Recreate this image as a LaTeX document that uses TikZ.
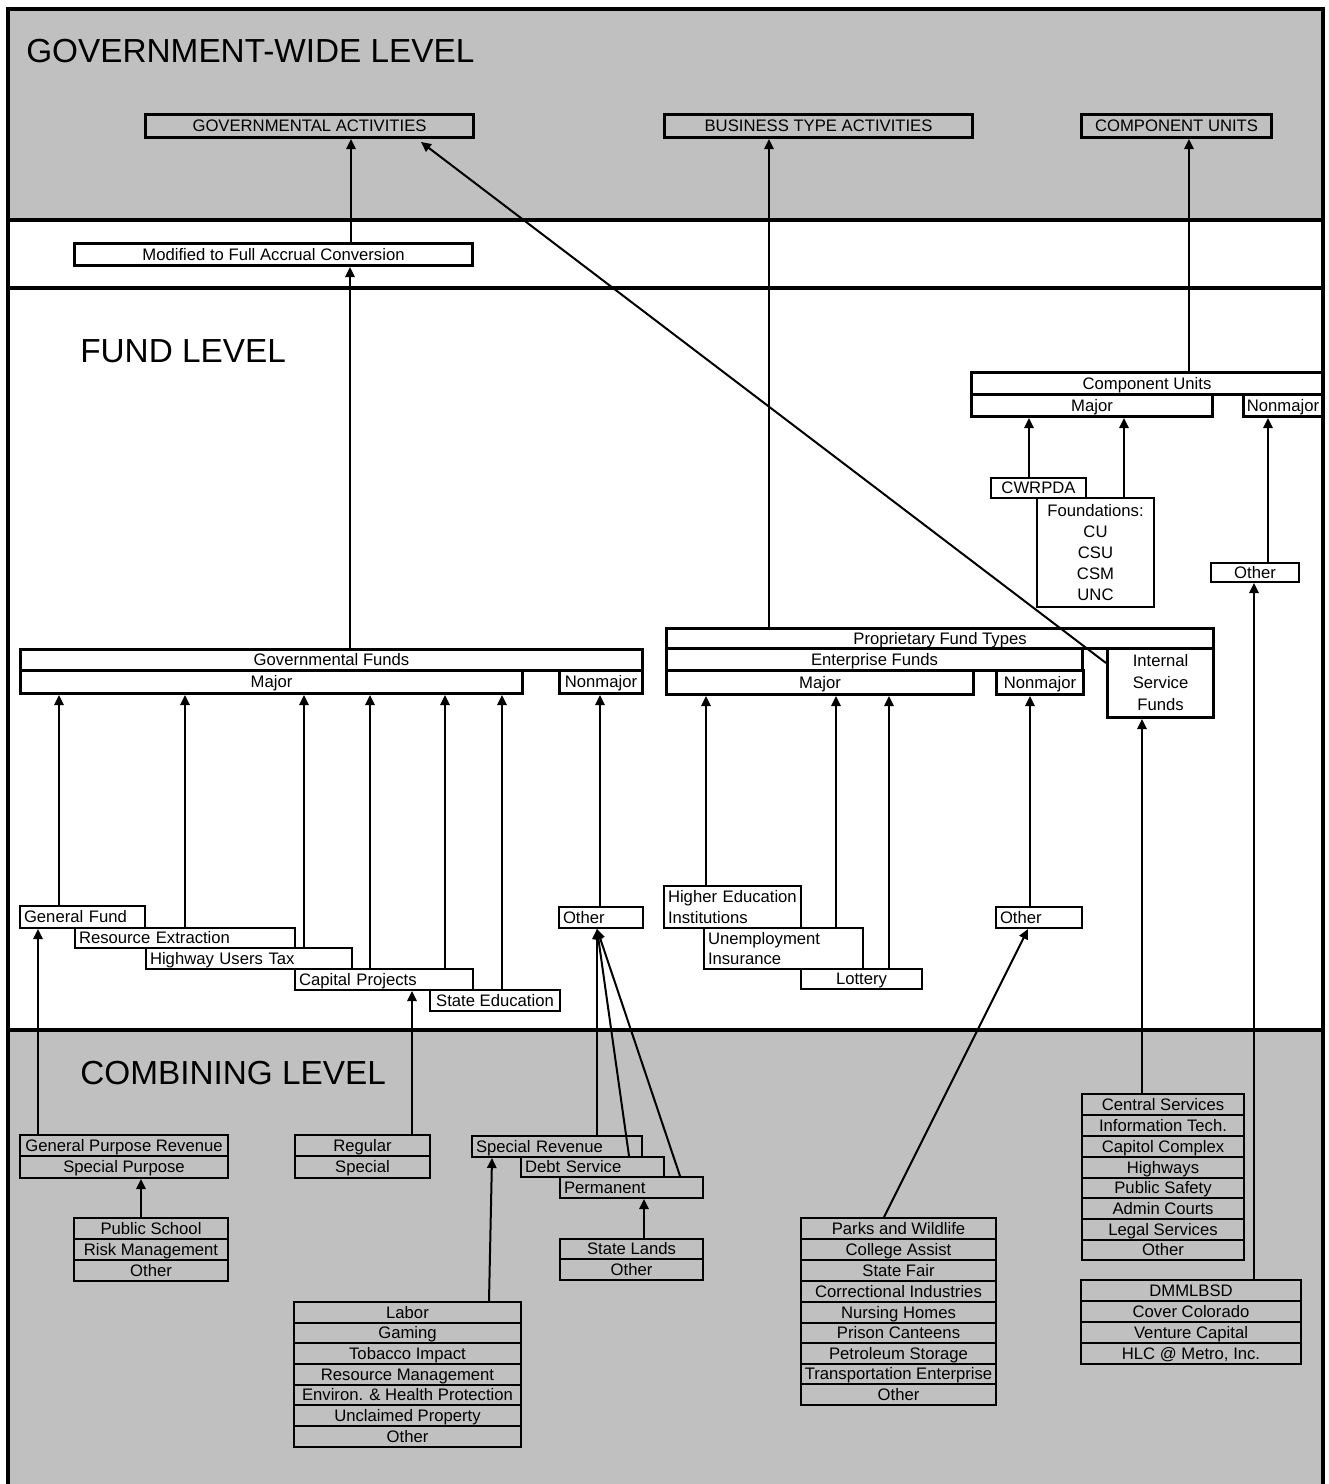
\documentclass[tikz,border=0pt]{standalone}
\usepackage{fontspec}
\setmainfont{Liberation Sans}
\usetikzlibrary{arrows.meta}
\definecolor{bandgray}{RGB}{192,192,192}
\newcommand{\smf}{\fontsize{12.5}{15.6}\selectfont}
\newcommand{\mybox}[7]{%
  \pgfmathsetmacro\mybw{(#4-#2)*0.75}%
  \pgfmathsetmacro\mybh{(#5-#3)*0.75}%
  \pgfmathsetmacro\mytw{(#4-#2-8)*0.75}%
  \node[#6, anchor=north west, minimum width=\mybw pt, minimum height=\mybh pt] (#1) at (#2,#3) {#7};}
\tikzset{
  tboxm/.style={draw, line width=2.3pt, inner sep=0pt, align=center, font=\smf},
  nboxm/.style={draw, line width=1.5pt, inner sep=0pt, align=center, font=\smf},
  lboxm/.style={nboxm, inner xsep=3pt, text width=\mytw pt, align=left},
  fixline/.style={text height=11pt, text depth=2.5pt},
  tbox/.style={tboxm, fixline},
  nbox/.style={nboxm, fixline},
  lbox/.style={lboxm, fixline},
  arr/.style={line width=1.5pt, -{Triangle[length=7.5pt,width=7pt]}},
  bandline/.style={line width=3pt},
  ttl/.style={font=\fontsize{25}{30}\selectfont, anchor=base west, inner sep=0pt}
}
\begin{document}
\begin{tikzpicture}[x=0.75pt, y=-0.75pt]
\useasboundingbox (0,0) rectangle (1328,1484);
% bands
\fill[bandgray] (8,9.5) rectangle (1323,220);
\fill[bandgray] (8,1030) rectangle (1323,1484);
\draw[bandline] (8,220) -- (1323,220);
\draw[bandline] (8,288) -- (1323,288);
\draw[bandline] (8,1030) -- (1323,1030);
\draw[line width=3pt, line join=miter] (8,1484) -- (8,9.5) -- (1323,9.5) -- (1323,1484);
% titles
\node[ttl] (t1) at (26,63) {GOVERNMENT-WIDE LEVEL};
\node[ttl] (t2) at (80,362) {FUND LEVEL};
\node[ttl] (t3) at (80,1084) {COMBINING LEVEL};
% government-wide
\mybox{ga}{144}{113}{472}{136}{tbox}{GOVERNMENTAL ACTIVITIES}
\mybox{bta}{663}{113}{971}{136}{tbox}{BUSINESS TYPE ACTIVITIES}
\mybox{cut}{1080}{113}{1270}{136}{tbox}{COMPONENT UNITS}
\mybox{mod}{73}{242}{471}{264}{tbox}{Modified to Full Accrual Conversion}
% component units
\mybox{cuh}{970}{371}{1321}{393}{tbox}{Component Units}
\mybox{cumaj}{970}{393}{1211}{415}{tbox}{Major}
\mybox{cunon}{1242}{393}{1321}{415}{tbox}{Nonmajor}
\mybox{cwr}{990}{477}{1085}{497}{nbox}{CWRPDA}
\mybox{fnd}{1036}{497}{1153}{606}{nboxm}{Foundations:\\CU\\CSU\\CSM\\UNC}
\mybox{oth3}{1210}{562}{1298}{581}{nbox}{Other}
% proprietary
\mybox{pft}{665}{627}{1212}{647}{tbox}{Proprietary Fund Types}
\mybox{ent}{665}{647}{1081}{669}{tbox}{Enterprise Funds}
\mybox{emaj}{665}{669}{972}{693}{tbox}{Major}
\mybox{enon}{995}{669}{1082}{693}{tbox}{Nonmajor}
\mybox{isf}{1106}{647}{1212}{716}{tboxm, font=\fontsize{12.5}{16.5}\selectfont}{Internal\\Service\\Funds}
% governmental
\mybox{gfd}{19}{648}{641}{669}{tbox}{Governmental Funds}
\mybox{gmaj}{19}{669}{521}{692}{tbox}{Major}
\mybox{gnon}{558}{669}{641}{692}{tbox}{Nonmajor}
% fund-level funds
\mybox{gf}{19}{905}{144}{927}{lbox}{General Fund}
\mybox{re}{74}{927}{294}{947}{lbox}{Resource Extraction}
\mybox{hut}{145}{947}{351}{968}{lbox}{Highway Users Tax}
\mybox{cp}{294}{968}{472}{989}{lbox}{Capital Projects}
\mybox{se}{429}{989}{559}{1010}{nbox}{State Education}
\mybox{oth1}{558}{906}{642}{927}{lbox}{Other}
\mybox{hei}{663}{885}{800}{927}{lboxm}{Higher Education\\Institutions}
\mybox{ui}{703}{927}{862}{968}{lboxm}{Unemployment\\Insurance}
\mybox{lot}{800}{968}{921}{988}{nbox}{Lottery}
\mybox{oth2}{995}{906}{1081}{927}{lbox}{Other}
% combining level
\mybox{gpr}{19}{1134}{227}{1155}{nbox}{General Purpose Revenue}
\mybox{spp}{19}{1155}{227}{1177}{nbox}{Special Purpose}
\mybox{ps}{73}{1217}{227}{1238}{nbox}{Public School}
\mybox{rm}{73}{1238}{227}{1259}{nbox}{Risk Management}
\mybox{oth4}{73}{1259}{227}{1280}{nbox}{Other}
\mybox{reg}{294}{1134}{429}{1155}{nbox}{Regular}
\mybox{spc}{294}{1155}{429}{1177}{nbox}{Special}
\mybox{sr}{471}{1135}{641}{1156}{lbox}{Special Revenue}
\mybox{ds}{520}{1156}{663}{1176}{lbox}{Debt Service}
\mybox{perm}{559}{1176}{702}{1197}{lbox}{Permanent}
\mybox{sl}{559}{1238}{702}{1258}{nbox}{State Lands}
\mybox{oth5}{559}{1258}{702}{1279}{nbox}{Other}
% special revenue list
\mybox{lab1}{293}{1301}{520}{1322}{nbox}{Labor}
\mybox{lab2}{293}{1322}{520}{1342}{nbox}{Gaming}
\mybox{lab3}{293}{1342}{520}{1363}{nbox}{Tobacco Impact}
\mybox{lab4}{293}{1363}{520}{1384}{nbox}{Resource Management}
\mybox{lab5}{293}{1384}{520}{1404}{nbox}{Environ. \& Health Protection}
\mybox{lab6}{293}{1404}{520}{1425}{nbox}{Unclaimed Property}
\mybox{lab7}{293}{1425}{520}{1446}{nbox}{Other}
% enterprise list
\mybox{pk1}{800}{1217}{995}{1238}{nbox}{Parks and Wildlife}
\mybox{pk2}{800}{1238}{995}{1259}{nbox}{College Assist}
\mybox{pk3}{800}{1259}{995}{1280}{nbox}{State Fair}
\mybox{pk4}{800}{1280}{995}{1301}{nbox}{Correctional Industries}
\mybox{pk5}{800}{1301}{995}{1322}{nbox}{Nursing Homes}
\mybox{pk6}{800}{1322}{995}{1342}{nbox}{Prison Canteens}
\mybox{pk7}{800}{1342}{995}{1363}{nbox}{Petroleum Storage}
\mybox{pk8}{800}{1363}{995}{1383}{nbox}{Transportation Enterprise}
\mybox{pk9}{800}{1383}{995}{1404}{nbox}{Other}
% internal service list
\mybox{cs1}{1081}{1093}{1243}{1114}{nbox}{Central Services}
\mybox{cs2}{1081}{1114}{1243}{1135}{nbox}{Information Tech.}
\mybox{cs3}{1081}{1135}{1243}{1156}{nbox}{Capitol Complex}
\mybox{cs4}{1081}{1156}{1243}{1177}{nbox}{Highways}
\mybox{cs5}{1081}{1177}{1243}{1197}{nbox}{Public Safety}
\mybox{cs6}{1081}{1197}{1243}{1218}{nbox}{Admin Courts}
\mybox{cs7}{1081}{1218}{1243}{1239}{nbox}{Legal Services}
\mybox{cs8}{1081}{1239}{1243}{1259}{nbox}{Other}
% component unit list
\mybox{dm1}{1080}{1279}{1300}{1300}{nbox}{DMMLBSD}
\mybox{dm2}{1080}{1300}{1300}{1321}{nbox}{Cover Colorado}
\mybox{dm3}{1080}{1321}{1300}{1342}{nbox}{Venture Capital}
\mybox{dm4}{1080}{1342}{1300}{1363}{nbox}{HLC @ Metro, Inc.}
% connectors
\draw[arr] (mod.north -| 351,0) -- (ga.south -| 351,0);
\draw[arr] (gfd.north -| 350,0) -- (mod.south -| 350,0);
\draw[arr] (pft.north -| 769,0) -- (bta.south -| 769,0);
\draw[arr] (cuh.north -| 1189,0) -- (cut.south -| 1189,0);
\coordinate (dtip) at (421,142);
\draw[arr] (isf.west |- 0,663) -- (dtip);
\draw[arr] (cwr.north -| 1029,0) -- (cumaj.south -| 1029,0);
\draw[arr] (fnd.north -| 1124,0) -- (cumaj.south -| 1124,0);
\draw[arr] (oth3.north -| 1268,0) -- (cunon.south -| 1268,0);
\draw[arr] (dm1.north -| 1254,0) -- (oth3.south -| 1254,0);
\draw[arr] (cs1.north -| 1142,0) -- (isf.south -| 1142,0);
\draw[arr] (gf.north -| 59,0) -- (gmaj.south -| 59,0);
\draw[arr] (re.north -| 185,0) -- (gmaj.south -| 185,0);
\draw[arr] (hut.north -| 304,0) -- (gmaj.south -| 304,0);
\draw[arr] (cp.north -| 370,0) -- (gmaj.south -| 370,0);
\draw[arr] (cp.north -| 445,0) -- (gmaj.south -| 445,0);
\draw[arr] (se.north -| 502,0) -- (gmaj.south -| 502,0);
\draw[arr] (oth1.north -| 600,0) -- (gnon.south -| 600,0);
\draw[arr] (hei.north -| 706,0) -- (emaj.south -| 706,0);
\draw[arr] (ui.north -| 836,0) -- (emaj.south -| 836,0);
\draw[arr] (lot.north -| 889,0) -- (emaj.south -| 889,0);
\draw[arr] (oth2.north -| 1030,0) -- (enon.south -| 1030,0);
\draw[arr] (gpr.north -| 38,0) -- (gf.south -| 38,0);
\draw[arr] (reg.north -| 412,0) -- (cp.south -| 412,0);
\draw[arr] (sr.north -| 597,0) -- (oth1.south -| 597,0);
\draw[arr] (ds.north -| 629,0) -- (oth1.south -| 597,0);
\draw[arr] (perm.north -| 680,0) -- (oth1.south -| 597,0);
\draw[arr] (ps.north -| 141,0) -- (spp.south -| 141,0);
\draw[arr] (sl.north -| 644,0) -- (perm.south -| 644,0);
\draw[arr] (lab1.north -| 489,0) -- (sr.south -| 492,0);
\draw[arr] (pk1.north -| 884,0) -- (oth2.south -| 1028,0);
\end{tikzpicture}
\end{document}
